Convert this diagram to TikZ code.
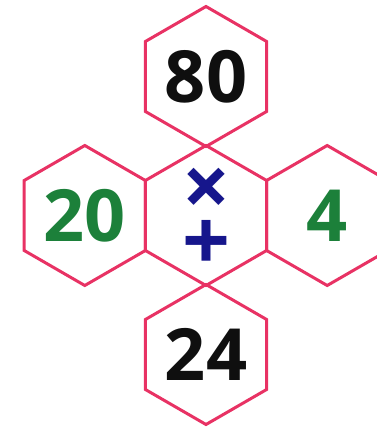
\documentclass[tikz,border=0pt]{standalone}
\usepackage{fontspec}
\setmainfont{Open Sans}
\usepackage{tikz}
\usetikzlibrary{shapes.geometric, positioning}
\definecolor{hxPink}{RGB}{232,50,100}
\definecolor{hxGreen}{RGB}{28,128,58}
\definecolor{hxNavy}{RGB}{22,22,140}
\definecolor{hxInk}{RGB}{15,15,15}

\begin{document}
\begin{tikzpicture}[
    x=1pt, y=1pt,
    font=\bfseries\fontsize{72}{72}\selectfont,
    hexa/.style={regular polygon, regular polygon sides=6,
                shape border rotate=30, draw=hxPink, line width=3pt,
                minimum size=140pt, inner sep=0pt, outer sep=0pt},
    given/.style={hexa, text=hxInk},
    part/.style={hexa, text=hxGreen},
    op/.style={text=hxNavy, inner sep=0pt, align=center,
                font=\bfseries\fontsize{84}{54}\selectfont}
]
\useasboundingbox (0,0) rectangle (376,427);

% Middle hexagon with the two operations
\node[hexa] (mid) at (206,211.5) {};
\node[op] (ops) at ([yshift=-4pt]mid.center) {×\\+};

% Product on top, sum at the bottom
\node[given] (prod) at (206,350.5) {80};
\node[given] (sum) at (206,72.5) {24};

% The two factors on the sides
\node[part] (lhs) at (84.8,211.5) {20};
\node[part] (rhs) at (327.2,211.5) {4};

\end{tikzpicture}
\end{document}
